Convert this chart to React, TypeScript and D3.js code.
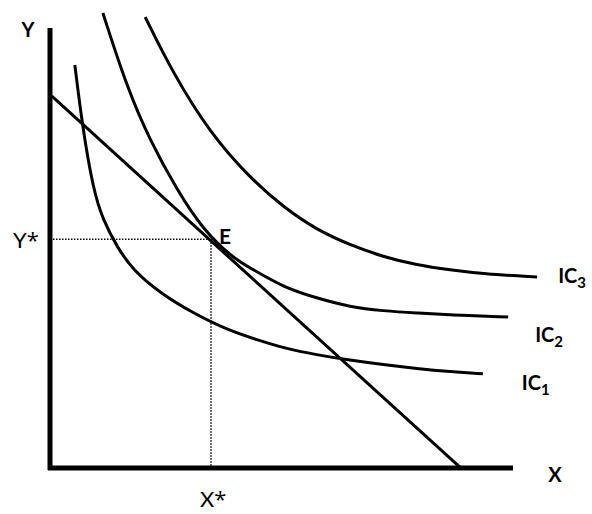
import * as d3 from 'd3';

// Indifference-curve diagram, data units on both axes run 0..10
const ic1X = [0.54, 0.7, 0.94, 1.15, 1.46, 1.8, 2.39, 3.11, 3.85, 4.57, 5.07, 5.8, 6.52, 7.24, 7.98, 8.7, 9.41];
const ic1Y = [9.16, 7.8, 6.32, 5.64, 5.02, 4.5, 3.98, 3.52, 3.14, 2.89, 2.73, 2.57, 2.45, 2.35, 2.26, 2.19, 2.14];

const ic2X = [1.15, 1.67, 2.17, 2.76, 3.33, 3.98, 4.35, 5.07, 5.8, 6.52, 7.24, 7.98, 8.7, 9.96];
const ic2Y = [10.34, 8.66, 7.45, 6.32, 5.41, 4.77, 4.55, 4.11, 3.86, 3.66, 3.57, 3.52, 3.48, 3.43];

const ic3X = [2.07, 2.67, 3.48, 4.35, 5.07, 5.8, 6.52, 7.24, 7.98, 8.7, 9.41, 10.59];
const ic3Y = [10.25, 8.98, 7.61, 6.59, 5.93, 5.41, 5.07, 4.8, 4.61, 4.5, 4.41, 4.34];

const budgetX = [0.04, 8.91];
const budgetY = [8.45, 0.02];

const equilibrium = { x: 3.5, y: 5.2 };

const curveLabels = ['1', '2', '3'];

const W = 592;
const H = 514;

const FONT = 'Lato, "Open Sans", sans-serif';

export default function App() {
  const x = d3.scaleLinear().domain([0, 10]).range([50, 510]);
  const y = d3.scaleLinear().domain([0, 10]).range([468, 28]);

  const line = d3
    .line<[number, number]>()
    .x((d) => x(d[0]))
    .y((d) => y(d[1]))
    .curve(d3.curveBasis);

  const straight = d3
    .line<[number, number]>()
    .x((d) => x(d[0]))
    .y((d) => y(d[1]));

  const curves = [
    { xs: ic1X, ys: ic1Y, label: curveLabels[0], dx: 39, dy: 16 },
    { xs: ic2X, ys: ic2Y, label: curveLabels[1], dx: 27, dy: 25 },
    { xs: ic3X, ys: ic3Y, label: curveLabels[2], dx: 21, dy: 6 },
  ];

  const budget = d3.zip(budgetX, budgetY) as [number, number][];

  const ex = x(equilibrium.x);
  const ey = y(equilibrium.y);

  return (
    <svg
      width={W}
      height={H}
      style={{ position: 'absolute', left: 0, top: 0, background: '#fff' }}
      fontFamily={FONT}
    >
      {/* guide lines to the axes */}
      <line x1={x(0)} x2={ex} y1={ey} y2={ey} stroke="#000" strokeWidth={1.5} strokeDasharray="1.5,1.5" />
      <line x1={ex} x2={ex} y1={ey} y2={y(0)} stroke="#000" strokeWidth={1.5} strokeDasharray="1.5,1.5" />

      {/* axes */}
      <line x1={x(0)} x2={x(0)} y1={y(0) + 2} y2={y(10)} stroke="#000" strokeWidth={5} />
      <line x1={x(0) - 2} x2={x(10) + 3} y1={y(0)} y2={y(0)} stroke="#000" strokeWidth={5} />

      {/* budget line */}
      <path d={straight(budget) || ''} fill="none" stroke="#000" strokeWidth={3} />

      {curves.map((c, i) => {
        const pts = d3.zip(c.xs, c.ys) as [number, number][];
        const last = pts[pts.length - 1];
        return (
          <g key={i}>
            <path d={line(pts) || ''} fill="none" stroke="#000" strokeWidth={3} />
            <text x={x(last[0]) + c.dx} y={y(last[1]) + c.dy} fontSize={20} fontWeight="bold">
              IC
              <tspan fontSize={15} dy={5}>
                {c.label}
              </tspan>
            </text>
          </g>
        );
      })}

      <text x={ex + 8} y={ey + 5} fontSize={21} fontWeight="bold">
        E
      </text>

      <text x={28} y={37} fontSize={20} fontWeight="bold" textAnchor="middle">
        Y
      </text>
      <text x={555} y={482} fontSize={20} fontWeight="bold" textAnchor="middle">
        X
      </text>
      <text x={13} y={248} fontSize={22}>
        Y<tspan fontFamily="'Open Sans', sans-serif">*</tspan>
      </text>
      <text x={200} y={507} fontSize={22}>
        X<tspan fontFamily="'Open Sans', sans-serif">*</tspan>
      </text>
    </svg>
  );
}
